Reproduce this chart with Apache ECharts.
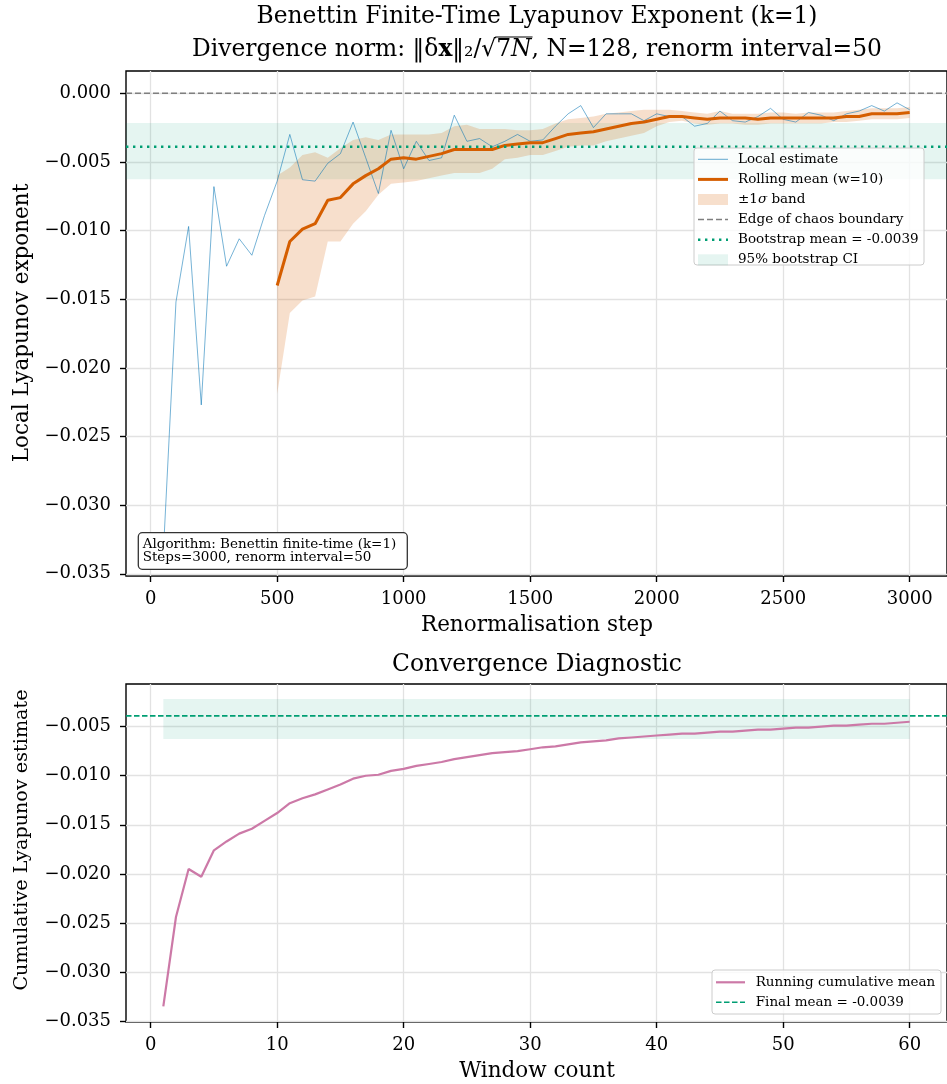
<!DOCTYPE html>
<html>
<head>
<meta charset="utf-8">
<script src="https://cdn.jsdelivr.net/npm/echarts@6/dist/echarts.min.js"></script>
<style>
  html, body { margin: 0; padding: 0; background: #ffffff; }
  #chart { width: 947px; height: 1084px; }
</style>
</head>
<body>
<div id="chart"></div>
<script>
// Renormalisation steps (one local estimate every 50 steps)
const steps = [50,100,150,200,250,300,350,400,450,500,550,600,650,700,750,800,850,900,950,1000,
  1050,1100,1150,1200,1250,1300,1350,1400,1450,1500,1550,1600,1650,1700,1750,1800,1850,1900,1950,2000,
  2050,2100,2150,2200,2250,2300,2350,2400,2450,2500,2550,2600,2650,2700,2750,2800,2850,2900,2950,3000];

// Local finite-time Lyapunov estimates
const localEstimate = [-0.0335,-0.0152,-0.0097,-0.0227,-0.0068,-0.0126,-0.0106,-0.0118,-0.0089,-0.0064,
  -0.0030,-0.0063,-0.0064,-0.0051,-0.0044,-0.0021,-0.0047,-0.0073,-0.0027,-0.0055,
  -0.0035,-0.0049,-0.0047,-0.0016,-0.0035,-0.0033,-0.0039,-0.0035,-0.0030,-0.0035,
  -0.0034,-0.0024,-0.0015,-0.0009,-0.0025,-0.0015,-0.0015,-0.0015,-0.0020,-0.0015,
  -0.0017,-0.0017,-0.0024,-0.0022,-0.0013,-0.0020,-0.0021,-0.0017,-0.0011,-0.0019,
  -0.0021,-0.0014,-0.0016,-0.0020,-0.0015,-0.0013,-0.0009,-0.0013,-0.0007,-0.0012];

// Rolling mean (window 10) and its ±1σ band, defined from step 500 on
const rollingMean = [null,null,null,null,null,null,null,null,null,-0.0140,
  -0.0108,-0.0099,-0.0095,-0.0078,-0.0076,-0.0066,-0.0060,-0.0055,-0.0048,-0.0047,
  -0.0048,-0.0046,-0.0044,-0.0041,-0.0041,-0.0041,-0.0041,-0.0038,-0.0037,-0.0036,
  -0.0036,-0.0033,-0.0030,-0.0029,-0.0028,-0.0026,-0.0024,-0.0022,-0.0021,-0.0019,
  -0.0017,-0.0017,-0.0018,-0.0019,-0.0018,-0.0018,-0.0018,-0.0019,-0.0018,-0.0018,
  -0.0018,-0.0018,-0.0018,-0.0018,-0.0017,-0.0017,-0.0015,-0.0015,-0.0015,-0.0014];
const bandUpper = [null,null,null,null,null,null,null,null,null,-0.0060,
  -0.0054,-0.0045,-0.0043,-0.0047,-0.0040,-0.0034,-0.0032,-0.0034,-0.0030,-0.0030,
  -0.0030,-0.0030,-0.0029,-0.0024,-0.0023,-0.0026,-0.0026,-0.0026,-0.0027,-0.0027,
  -0.0026,-0.0022,-0.0019,-0.0018,-0.0017,-0.0015,-0.0014,-0.0013,-0.0012,-0.0012,
  -0.0012,-0.0013,-0.0014,-0.0015,-0.0013,-0.0015,-0.0015,-0.0015,-0.0014,-0.0014,
  -0.0015,-0.0014,-0.0014,-0.0014,-0.0013,-0.0012,-0.0011,-0.0011,-0.0011,-0.0010];
const bandLower = [null,null,null,null,null,null,null,null,null,-0.0219,
  -0.0160,-0.0151,-0.0148,-0.0108,-0.0108,-0.0095,-0.0086,-0.0074,-0.0066,-0.0065,
  -0.0064,-0.0062,-0.0060,-0.0058,-0.0058,-0.0058,-0.0055,-0.0048,-0.0047,-0.0045,
  -0.0045,-0.0042,-0.0039,-0.0038,-0.0038,-0.0035,-0.0033,-0.0031,-0.0029,-0.0024,
  -0.0021,-0.0020,-0.0022,-0.0023,-0.0022,-0.0022,-0.0023,-0.0023,-0.0022,-0.0022,
  -0.0022,-0.0022,-0.0022,-0.0021,-0.0021,-0.0020,-0.0019,-0.0019,-0.0019,-0.0018];

// Reference levels
const chaosEdge = 0.0;
const bootstrapMean = -0.0039;
const ciLow = -0.00626;
const ciHigh = -0.00217;

// Convergence diagnostic: running cumulative mean per window
const windowCount = [1,2,3,4,5,6,7,8,9,10,11,12,13,14,15,16,17,18,19,20,
  21,22,23,24,25,26,27,28,29,30,31,32,33,34,35,36,37,38,39,40,
  41,42,43,44,45,46,47,48,49,50,51,52,53,54,55,56,57,58,59,60];
const cumulativeMean = [-0.0335,-0.0244,-0.0195,-0.0203,-0.0176,-0.0167,-0.0159,-0.0154,-0.0146,-0.0138,
  -0.0128,-0.0123,-0.0119,-0.0114,-0.0109,-0.0103,-0.0100,-0.0099,-0.0095,-0.0093,
  -0.0090,-0.0088,-0.0086,-0.0083,-0.0081,-0.0079,-0.0077,-0.0076,-0.0075,-0.0073,
  -0.0071,-0.0070,-0.0068,-0.0066,-0.0065,-0.0064,-0.0062,-0.0061,-0.0060,-0.0059,
  -0.0058,-0.0057,-0.0057,-0.0056,-0.0055,-0.0055,-0.0054,-0.0053,-0.0053,-0.0052,
  -0.0051,-0.0051,-0.0050,-0.0049,-0.0049,-0.0048,-0.0047,-0.0047,-0.0046,-0.0045];
const finalMean = -0.0039;

// Axis extents and tick positions
const topX = [-97.5, 3147.5];
const topY = [-0.03516, 0.00162];
const bottomX = [-1.95, 62.95];
const bottomY = [-0.0351, -0.00065];
const topXTicks = [0,500,1000,1500,2000,2500,3000];
const topYTicks = [-0.035,-0.030,-0.025,-0.020,-0.015,-0.010,-0.005,0.000];
const bottomXTicks = [0,10,20,30,40,50,60];
const bottomYTicks = [-0.035,-0.030,-0.025,-0.020,-0.015,-0.010,-0.005];

const FONT = 'DejaVu Serif';
const TICK_FS = 18;
const LABEL_FS = 21.5;
const TITLE_FS = 23.4;
const LEGEND_FS = 13.5;

function fmtY(v) {
  return (v < 0 ? '\u2212' : '') + Math.abs(v).toFixed(3);
}

function makeX(gridIndex, ext, ticks) {
  return {
    type: 'value', gridIndex, min: ext[0], max: ext[1],
    axisLine: { show: false, onZero: false },
    axisTick: { show: true, customValues: ticks, length: 6, lineStyle: { color: '#000', width: 1.4 } },
    axisLabel: { customValues: ticks, margin: 14, color: '#000', fontFamily: FONT, fontSize: TICK_FS, formatter: v => String(v) },
    splitLine: { show: true, lineStyle: { color: '#e2e2e2', width: 1.3 } }
  };
}
function makeY(gridIndex, ext, ticks) {
  return {
    type: 'value', gridIndex, min: ext[0], max: ext[1],
    axisLine: { show: false, onZero: false },
    axisTick: { show: true, customValues: ticks, length: 6, lineStyle: { color: '#000', width: 1.4 } },
    axisLabel: { customValues: ticks, margin: 15, color: '#000', fontFamily: FONT, fontSize: TICK_FS, formatter: fmtY },
    splitLine: { show: true, lineStyle: { color: '#e2e2e2', width: 1.3 } }
  };
}

const pair = (xs, ys) => xs.map((x, i) => [x, ys[i]]).filter(p => p[1] !== null);
const hline = (ext, v) => [[ext[0], v], [ext[1], v]];

const bandPts = steps.map((s, i) => [s, bandLower[i], bandUpper[i]]).filter(p => p[1] !== null);

function bandRender(params, api) {
  if (params.dataIndex !== 0) return null;
  const upper = bandPts.map(p => api.coord([p[0], p[2]]));
  const lower = bandPts.map(p => api.coord([p[0], p[1]])).reverse();
  return {
    type: 'polygon',
    shape: { points: upper.concat(lower) },
    style: { fill: 'rgba(213,94,0,0.2)', stroke: null }
  };
}

const txt = (x, y, text, size, extra) => Object.assign({
  type: 'text', x, y, z: 100,
  style: Object.assign({ text, fontFamily: FONT, fontSize: size, fill: '#000', align: 'center', verticalAlign: 'middle' }, extra || {})
});
const seg = (x1, x2, y, stroke, width, dash) => ({
  type: 'line', z: 100,
  shape: { x1, y1: y, x2, y2: y },
  style: { stroke, lineWidth: width, lineDash: dash || null }
});

// top legend rows
const lgX = 698, lgTx = 738;
const lgRows = [159.3, 179.4, 199.5, 219.6, 239.7, 259.8];
const legendTop = [
  { type: 'rect', z: 99, shape: { x: 694, y: 148, width: 230, height: 117, r: 3 },
    style: { fill: 'rgba(255,255,255,0.8)', stroke: '#cccccc', lineWidth: 1 } },
  seg(lgX, lgX + 30, lgRows[0], 'rgba(0,114,178,0.6)', 1),
  seg(lgX, lgX + 30, lgRows[1], '#D55E00', 3),
  { type: 'rect', z: 100, shape: { x: lgX, y: lgRows[2] - 5.5, width: 30, height: 11 }, style: { fill: 'rgba(213,94,0,0.2)' } },
  seg(lgX, lgX + 30, lgRows[3], '#7f7f7f', 1.5, [6, 3]),
  seg(lgX, lgX + 30, lgRows[4], '#009E73', 2.4, [2.4, 4.6]),
  { type: 'rect', z: 100, shape: { x: lgX, y: lgRows[5] - 5.5, width: 30, height: 11 }, style: { fill: 'rgba(0,158,115,0.1)' } },
  txt(lgTx, lgRows[0], 'Local estimate', LEGEND_FS, { align: 'left' }),
  txt(lgTx, lgRows[1], 'Rolling mean (w=10)', LEGEND_FS, { align: 'left' }),
  txt(lgTx, lgRows[2], '\u00b11{i|\u03c3} band', LEGEND_FS, { align: 'left', rich: { i: { fontFamily: FONT, fontSize: LEGEND_FS, fontStyle: 'italic' } } }),
  txt(lgTx, lgRows[3], 'Edge of chaos boundary', LEGEND_FS, { align: 'left' }),
  txt(lgTx, lgRows[4], 'Bootstrap mean = ' + bootstrapMean.toFixed(4), LEGEND_FS, { align: 'left' }),
  txt(lgTx, lgRows[5], '95% bootstrap CI', LEGEND_FS, { align: 'left' })
];

const legendBottom = [
  { type: 'rect', z: 99, shape: { x: 712, y: 970, width: 229, height: 44, r: 3 },
    style: { fill: 'rgba(255,255,255,0.8)', stroke: '#cccccc', lineWidth: 1 } },
  seg(716, 745, 982.3, '#CC79A7', 2.2),
  seg(716, 745, 1002.3, '#009E73', 1.6, [5.5, 2.5]),
  txt(755.7, 982.3, 'Running cumulative mean', LEGEND_FS, { align: 'left' }),
  txt(755.7, 1002.3, 'Final mean = ' + finalMean.toFixed(4), LEGEND_FS, { align: 'left' })
];

const annotation = [
  { type: 'rect', z: 99, shape: { x: 138.3, y: 532.7, width: 269, height: 36.6, r: 4 },
    style: { fill: '#ffffff', stroke: '#333333', lineWidth: 1.3 } },
  txt(142.7, 544, 'Algorithm: Benettin finite-time (k=1)', 13.5, { align: 'left' }),
  txt(142.7, 557.7, 'Steps=3000, renorm interval=50', 13.5, { align: 'left' })
];

// Second title line: text with a vinculum drawn over the radicand "7N"
const measure = (() => {
  const ctx = document.createElement('canvas').getContext('2d');
  return (s, style) => { ctx.font = (style || '') + ' ' + TITLE_FS + 'px "' + FONT + '"'; return ctx.measureText(s).width; };
})();
const t2 = { pre: 'Divergence norm: \u2016\u03b4', bx: 'x', mid: '\u2016\u2082/\u221a', r7: '7', rN: 'N', post: ', N=128, renorm interval=50' };
const t2w = {
  pre: measure(t2.pre), bx: measure(t2.bx, 'bold'), mid: measure(t2.mid),
  r7: measure(t2.r7), rN: measure(t2.rN, 'italic'), post: measure(t2.post)
};
const t2Total = t2w.pre + t2w.bx + t2w.mid + t2w.r7 + t2w.rN + t2w.post;
const t2Start = 537 - t2Total / 2;
const vincX = t2Start + t2w.pre + t2w.bx + t2w.mid;
const vincW = t2w.r7 + t2w.rN;

const titles = [
  txt(537, 17, 'Benettin Finite-Time Lyapunov Exponent (k=1)', TITLE_FS),
  txt(537, 50, t2.pre + '{b|' + t2.bx + '}' + t2.mid + t2.r7 + '{i|' + t2.rN + '}' + t2.post, TITLE_FS, {
    rich: {
      b: { fontFamily: FONT, fontSize: TITLE_FS, fontWeight: 'bold' },
      i: { fontFamily: FONT, fontSize: TITLE_FS, fontStyle: 'italic' }
    }
  }),
  { type: 'line', z: 100, shape: { x1: vincX - 1, y1: 37, x2: vincX + vincW + 1, y2: 37 }, style: { stroke: '#000', lineWidth: 1.2 } },
  txt(537, 625, 'Renormalisation step', LABEL_FS),
  Object.assign(txt(22, 323, 'Local Lyapunov exponent', LABEL_FS), { rotation: Math.PI / 2 }),
  txt(537, 665, 'Convergence Diagnostic', TITLE_FS),
  txt(537, 1071, 'Window count', LABEL_FS),
  Object.assign(txt(22, 840, 'Cumulative Lyapunov estimate', 19.2), { rotation: Math.PI / 2 })
];

const option = {
  animation: false,
  backgroundColor: '#ffffff',
  grid: [
    { left: 126, top: 71, width: 822, height: 505, show: true, borderColor: '#000', borderWidth: 1.4, backgroundColor: 'transparent' },
    { left: 126, top: 684, width: 822, height: 338, show: true, borderColor: '#000', borderWidth: 1.4, backgroundColor: 'transparent' }
  ],
  xAxis: [makeX(0, topX, topXTicks), makeX(1, bottomX, bottomXTicks)],
  yAxis: [makeY(0, topY, topYTicks), makeY(1, bottomY, bottomYTicks)],
  series: [
    {
      name: 'Local estimate', type: 'line', xAxisIndex: 0, yAxisIndex: 0, z: 3,
      data: pair(steps, localEstimate), showSymbol: false, silent: true,
      lineStyle: { color: 'rgba(0,114,178,0.6)', width: 0.9 },
      markArea: {
        silent: true, z: 1,
        itemStyle: { color: 'rgba(0,158,115,0.1)' },
        label: { show: false },
        data: [[{ yAxis: ciLow }, { yAxis: ciHigh }]]
      }
    },
    {
      name: '\u00b11\u03c3 band', type: 'custom', xAxisIndex: 0, yAxisIndex: 0, z: 2, silent: true,
      data: bandPts, renderItem: bandRender
    },
    {
      name: 'Rolling mean (w=10)', type: 'line', xAxisIndex: 0, yAxisIndex: 0, z: 4,
      data: pair(steps, rollingMean), showSymbol: false, silent: true,
      lineStyle: { color: '#D55E00', width: 3 }
    },
    {
      name: 'Edge of chaos boundary', type: 'line', xAxisIndex: 0, yAxisIndex: 0, z: 5,
      data: hline(topX, chaosEdge), showSymbol: false, silent: true,
      lineStyle: { color: '#7f7f7f', width: 1.5, type: [6, 3] }
    },
    {
      name: 'Bootstrap mean', type: 'line', xAxisIndex: 0, yAxisIndex: 0, z: 5,
      data: hline(topX, bootstrapMean), showSymbol: false, silent: true,
      lineStyle: { color: '#009E73', width: 2.4, type: [2.4, 4.6] }
    },
    {
      name: 'Running cumulative mean', type: 'line', xAxisIndex: 1, yAxisIndex: 1, z: 4,
      data: pair(windowCount, cumulativeMean), showSymbol: false, silent: true,
      lineStyle: { color: '#CC79A7', width: 2.2 },
      markArea: {
        silent: true, z: 1,
        itemStyle: { color: 'rgba(0,158,115,0.1)' },
        label: { show: false },
        data: [[{ xAxis: windowCount[0], yAxis: ciLow }, { xAxis: windowCount[windowCount.length - 1], yAxis: ciHigh }]]
      }
    },
    {
      name: 'Final mean', type: 'line', xAxisIndex: 1, yAxisIndex: 1, z: 5,
      data: hline(bottomX, finalMean), showSymbol: false, silent: true,
      lineStyle: { color: '#009E73', width: 1.6, type: [5.5, 2.5] }
    }
  ],
  graphic: { elements: titles.concat(annotation, legendTop, legendBottom) }
};

const chart = echarts.init(document.getElementById('chart'), null, { renderer: 'canvas' });
chart.setOption(option);
</script>
</body>
</html>
